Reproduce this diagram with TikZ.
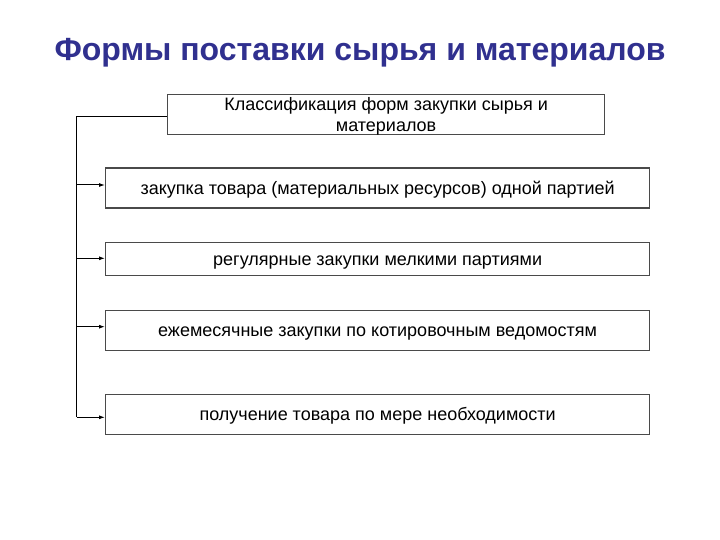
\documentclass[tikz,border=0pt]{standalone}
\usepackage{fontspec}
\setmainfont{Liberation Sans}
\usetikzlibrary{arrows.meta}
\definecolor{titleblue}{HTML}{30308F}
\definecolor{boxgray}{HTML}{4A4A4A}
\tikzset{
  itembox/.style={draw=boxgray, line width=1.2pt, inner sep=0pt, anchor=north west, font=\fontsize{18}{21}\selectfont},
  oneline/.style={text height=13pt, text depth=1pt},
  conn/.style={draw=black, line width=1pt},
  arr/.style={conn, -{Latex[length=6pt,width=4pt]}}
}
\begin{document}
\begin{tikzpicture}[x=1pt,y=-1pt]
\useasboundingbox (0,0) rectangle (720,540);
\node[font=\fontsize{32}{36}\selectfont\bfseries, text=titleblue] (title) at (360,53) {Формы поставки сырья и материалов};
\node[itembox, minimum width=437pt, minimum height=40pt, align=center, text depth=1pt] (top) at (167,94) {Классификация форм закупки сырья и\\материалов};
\node[itembox, oneline, minimum width=544pt, minimum height=40pt] (b1) at (105,167.5) {закупка товара (материальных ресурсов) одной партией};
\node[itembox, oneline, minimum width=544pt, minimum height=33pt] (b2) at (105,242) {регулярные закупки мелкими партиями};
\node[itembox, oneline, minimum width=544pt, minimum height=40pt] (b3) at (105,309.5) {ежемесячные закупки по котировочным ведомостям};
\node[itembox, oneline, minimum width=544pt, minimum height=40pt] (b4) at (105,394) {получение товара по мере необходимости};
\coordinate (c0) at (76.5,116.7);
\coordinate (c1) at (76.5,185);
\coordinate (c2) at (76.5,258.3);
\coordinate (c3) at (76.5,326.7);
\coordinate (c4) at (76.5,417.3);
\draw[conn] (top.west |- c0) -- (c0) -- (c4);
\draw[arr] (c1) -- (c1 -| b1.west);
\draw[arr] (c2) -- (c2 -| b2.west);
\draw[arr] (c3) -- (c3 -| b3.west);
\draw[arr] (c4) -- (c4 -| b4.west);
\end{tikzpicture}
\end{document}
